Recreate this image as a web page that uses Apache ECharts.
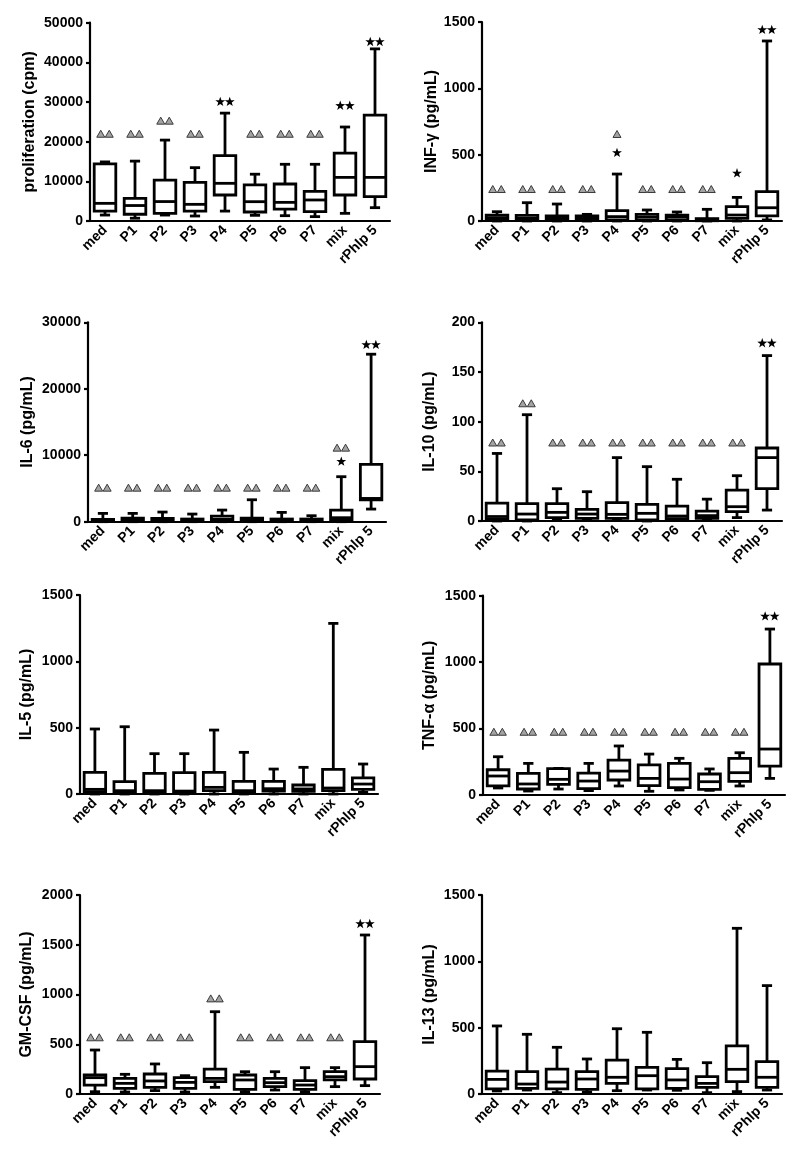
<!DOCTYPE html>
<html><head><meta charset="utf-8">
<script src="https://cdn.jsdelivr.net/npm/echarts@6/dist/echarts.min.js"></script>
<style>html,body{margin:0;padding:0;background:#fff}#c{width:800px;height:1162px}</style>
</head><body><div id="c"></div><script>
// ---- data ----
const categories = ['med','P1','P2','P3','P4','P5','P6','P7','mix','rPhlp 5'];
// each row: [min, Q1, median, Q3, max]
const proliferation = [
 [1500, 2500, 4450, 14400, 14900],
 [700, 1700, 3900, 5700, 15100],
 [1500, 1900, 4900, 10300, 20400],
 [1260, 2500, 4200, 9750, 13450],
 [2500, 6550, 9500, 16500, 27200],
 [1430, 2270, 4870, 9100, 11800],
 [1340, 3000, 4700, 9330, 14300],
 [1100, 2350, 5300, 7480, 14300],
 [1930, 6550, 11000, 17100, 23700],
 [3360, 6130, 11000, 26700, 43400]
];
const infg = [
 [0, 5, 25, 45, 70],
 [0, 5, 20, 43, 138],
 [0, 5, 20, 38, 128],
 [0, 5, 20, 38, 50],
 [0, 8, 33, 78, 354],
 [0, 5, 28, 50, 83],
 [0, 5, 28, 45, 68],
 [0, 2, 8, 18, 88],
 [0, 20, 45, 108, 178],
 [8, 38, 100, 221, 1357]
];
const il6 = [
 [0, 50, 150, 350, 1250],
 [0, 50, 250, 550, 1250],
 [0, 50, 250, 500, 1450],
 [0, 50, 200, 400, 1150],
 [0, 100, 350, 850, 1750],
 [0, 50, 250, 550, 3300],
 [0, 50, 200, 400, 1400],
 [0, 50, 200, 400, 900],
 [0, 250, 600, 1750, 6770],
 [1900, 3300, 3500, 8630, 25200]
];
const il10 = [
 [0, 1.7, 4.5, 18, 68],
 [0, 1, 7, 17.5, 107],
 [1, 3.4, 8.7, 17.5, 32.5],
 [1, 2.7, 7, 11.7, 29.5],
 [1, 2.7, 6.7, 18.5, 63.8],
 [0, 1, 7.7, 16.8, 54.7],
 [1, 2.3, 5, 15, 42],
 [1, 2.7, 5.4, 10, 22],
 [3.4, 9.4, 14.4, 31, 45.6],
 [11, 32.5, 63.8, 73.5, 166.5]
];
const il5 = [
 [0, 18, 35, 163, 490],
 [0, 12, 25, 93, 507],
 [0, 12, 25, 156, 304],
 [0, 12, 22, 161, 304],
 [0, 25, 50, 163, 482],
 [0, 12, 25, 95, 314],
 [0, 22, 40, 95, 188],
 [0, 20, 38, 68, 201],
 [0, 25, 45, 186, 1286],
 [12, 35, 75, 121, 226]
];
const tnf = [
 [53, 68, 143, 190, 288],
 [30, 45, 83, 163, 238],
 [45, 80, 118, 198, 200],
 [33, 48, 105, 165, 238],
 [68, 113, 180, 263, 369],
 [28, 70, 125, 226, 308],
 [38, 55, 120, 238, 276],
 [35, 43, 100, 158, 196],
 [68, 103, 168, 276, 318],
 [125, 218, 346, 986, 1249]
];
const gmcsf = [
 [23, 90, 164, 191, 442],
 [20, 57, 107, 157, 198],
 [34, 67, 131, 201, 302],
 [20, 57, 117, 164, 184],
 [67, 124, 157, 251, 827],
 [23, 47, 141, 191, 224],
 [40, 74, 114, 157, 224],
 [23, 47, 90, 134, 265],
 [74, 141, 174, 224, 265],
 [84, 151, 275, 526, 1598]
];
const il13 = [
 [23, 38, 110, 173, 513],
 [30, 43, 75, 168, 450],
 [10, 38, 90, 188, 352],
 [15, 35, 113, 168, 264],
 [25, 80, 126, 256, 492],
 [30, 38, 138, 201, 465],
 [28, 43, 106, 191, 261],
 [10, 50, 80, 131, 236],
 [18, 93, 186, 362, 1249],
 [30, 50, 126, 244, 817]
];
// significance marks: [category, value, symbol]
const prolifMarks = [['med',22000,'▲▲'],['P1',22000,'▲▲'],['P2',25300,'▲▲'],['P3',22000,'▲▲'],['P4',30200,'★★'],['P5',22000,'▲▲'],['P6',22000,'▲▲'],['P7',22000,'▲▲'],['mix',29200,'★★'],['rPhlp 5',45300,'★★']];
const infgMarks = [['med',241,'▲▲'],['P1',241,'▲▲'],['P2',241,'▲▲'],['P3',241,'▲▲'],['P4',656,'▲'],['P4',518,'★'],['P5',241,'▲▲'],['P6',241,'▲▲'],['P7',241,'▲▲'],['mix',364,'★'],['rPhlp 5',1445,'★★']];
const il6Marks = [['med',5120,'▲▲'],['P1',5120,'▲▲'],['P2',5120,'▲▲'],['P3',5120,'▲▲'],['P4',5120,'▲▲'],['P5',5120,'▲▲'],['P6',5120,'▲▲'],['P7',5120,'▲▲'],['mix',11140,'▲▲'],['mix',9130,'★'],['rPhlp 5',26700,'★★']];
const il10Marks = [['med',79,'▲▲'],['P1',118.5,'▲▲'],['P2',79,'▲▲'],['P3',79,'▲▲'],['P4',79,'▲▲'],['P5',79,'▲▲'],['P6',79,'▲▲'],['P7',79,'▲▲'],['mix',79,'▲▲'],['rPhlp 5',179.5,'★★']];
const il5Marks = [];
const tnfMarks = [['med',476,'▲▲'],['P1',476,'▲▲'],['P2',476,'▲▲'],['P3',476,'▲▲'],['P4',476,'▲▲'],['P5',476,'▲▲'],['P6',476,'▲▲'],['P7',476,'▲▲'],['mix',476,'▲▲'],['rPhlp 5',1349,'★★']];
const gmMarks = [['med',570,'▲▲'],['P1',570,'▲▲'],['P2',570,'▲▲'],['P3',570,'▲▲'],['P4',961,'▲▲'],['P5',570,'▲▲'],['P6',570,'▲▲'],['P7',570,'▲▲'],['mix',570,'▲▲'],['rPhlp 5',1715,'★★']];
const il13Marks = [];

// ---- layout ----
const panels = [
 {data: proliferation, marks: prolifMarks, name:'proliferation (cpm)', max:50000, interval:10000, left:90, top:22.7, width:300, height:198.3, gap:52},
 {data: infg, marks: infgMarks, name:'INF-γ (pg/mL)', max:1500, interval:500, left:482, top:22, width:300, height:199, gap:41},
 {data: il6, marks: il6Marks, name:'IL-6 (pg/mL)', max:30000, interval:10000, left:88, top:322.3, width:298, height:199.4, gap:52},
 {data: il10, marks: il10Marks, name:'IL-10 (pg/mL)', max:200, interval:50, left:482, top:322.3, width:300, height:198.7, gap:44},
 {data: il5, marks: il5Marks, name:'IL-5 (pg/mL)', max:1500, interval:500, left:80, top:595, width:298, height:199, gap:45},
 {data: tnf, marks: tnfMarks, name:'TNF-α (pg/mL)', max:1500, interval:500, left:483, top:595.7, width:302, height:199.3, gap:45},
 {data: gmcsf, marks: gmMarks, name:'GM-CSF (pg/mL)', max:2000, interval:500, left:80, top:895, width:300, height:199, gap:45},
 {data: il13, marks: il13Marks, name:'IL-13 (pg/mL)', max:1500, interval:500, left:482, top:895, width:300, height:199, gap:44}
];

const FONT = 'Liberation Sans, Arial, sans-serif';
const LW = 2.8;

function boxRender(params, api) {
  const i = api.value(0);
  const vals = [1,2,3,4,5].map(k => api.value(k));
  const bw = api.size([1, 0])[0];
  const cx = api.coord([i, 0])[0];
  const y = vals.map(v => api.coord([i, v])[1]);
  const hb = bw * 0.36, hc = bw * 0.17;
  const st = {stroke:'#000', lineWidth: LW, fill: null};
  return {type:'group', children:[
    {type:'line', shape:{x1:cx,y1:y[4],x2:cx,y2:y[3]}, style:st},
    {type:'line', shape:{x1:cx,y1:y[1],x2:cx,y2:y[0]}, style:st},
    {type:'line', shape:{x1:cx-hc,y1:y[4],x2:cx+hc,y2:y[4]}, style:st},
    {type:'line', shape:{x1:cx-hc,y1:y[0],x2:cx+hc,y2:y[0]}, style:st},
    {type:'rect', shape:{x:cx-hb,y:y[3],width:2*hb,height:y[1]-y[3]}, style:{fill:'#fff',stroke:'#000',lineWidth:LW}},
    {type:'line', shape:{x1:cx-hb,y1:y[2],x2:cx+hb,y2:y[2]}, style:st}
  ]};
}

function triShape(cx, cy) {
  const w = 8, h = 7;
  return {type:'polygon', shape:{points:[[cx-w/2,cy+h/2],[cx+w/2,cy+h/2],[cx,cy-h/2]]},
    style:{fill:'#a3a3a3', stroke:'#3a3a3a', lineWidth:1}};
}
function starShape(cx, cy) {
  const R = 5.2, r = R*0.40, pts = [];
  for (let k = 0; k < 10; k++) {
    const a = -Math.PI/2 + k*Math.PI/5;
    const rr = k % 2 === 0 ? R : r;
    pts.push([cx + rr*Math.cos(a), cy + 0.6 + rr*Math.sin(a)]);
  }
  return {type:'polygon', shape:{points:pts}, style:{fill:'#000'}};
}

function makeMarkRender(marks) {
  return function(params, api) {
    const sym = marks[params.dataIndex][2];
    const p = api.coord([api.value(0), api.value(1)]);
    const n = sym.length;
    const children = [];
    const step = sym.charAt(0) === '★' ? 9.5 : 8.5;
    for (let k = 0; k < n; k++) {
      const cx = p[0] + (k - (n-1)/2) * step;
      children.push(sym.charAt(k) === '★' ? starShape(cx, p[1]) : triShape(cx, p[1]));
    }
    return {type:'group', children};
  };
}

const option = {
  animation: false,
  backgroundColor: '#fff',
  grid: [], xAxis: [], yAxis: [], series: []
};

panels.forEach((p, gi) => {
  option.grid.push({left:p.left, top:p.top, width:p.width, height:p.height, containLabel:false});
  option.xAxis.push({
    type:'category', gridIndex:gi, data:categories, boundaryGap:true,
    axisLine:{lineStyle:{color:'#000', width:2.2}},
    axisTick:{alignWithLabel:true, length:4, lineStyle:{color:'#000', width:2.2}},
    axisLabel:{interval:0, rotate:45, margin:7, color:'#000', fontFamily:FONT, fontWeight:'bold', fontSize:14},
    splitLine:{show:false}
  });
  option.yAxis.push({
    type:'value', gridIndex:gi, min:0, max:p.max, interval:p.interval,
    name:p.name, nameLocation:'middle', nameGap:p.gap,
    nameTextStyle:{color:'#000', fontFamily:FONT, fontWeight:'bold', fontSize:16},
    axisLine:{show:true, lineStyle:{color:'#000', width:2.2}},
    axisTick:{show:true, length:4, lineStyle:{color:'#000', width:2.2}},
    axisLabel:{margin:7, color:'#000', fontFamily:FONT, fontWeight:'bold', fontSize:14, formatter: v => String(v)},
    splitLine:{show:false}
  });
  option.series.push({
    type:'custom', xAxisIndex:gi, yAxisIndex:gi, renderItem: boxRender,
    encode:{x:0, y:[1,2,3,4,5]},
    data: p.data.map((d, i) => [i].concat(d)), z:3
  });
  if (p.marks.length) {
    option.series.push({
      type:'custom', xAxisIndex:gi, yAxisIndex:gi, renderItem: makeMarkRender(p.marks),
      encode:{x:0, y:1},
      data: p.marks.map(m => [categories.indexOf(m[0]), m[1]]), z:4
    });
  }
});

const chart = echarts.init(document.getElementById('c'), null, {renderer:'canvas'});
chart.setOption(option);
</script></body></html>
